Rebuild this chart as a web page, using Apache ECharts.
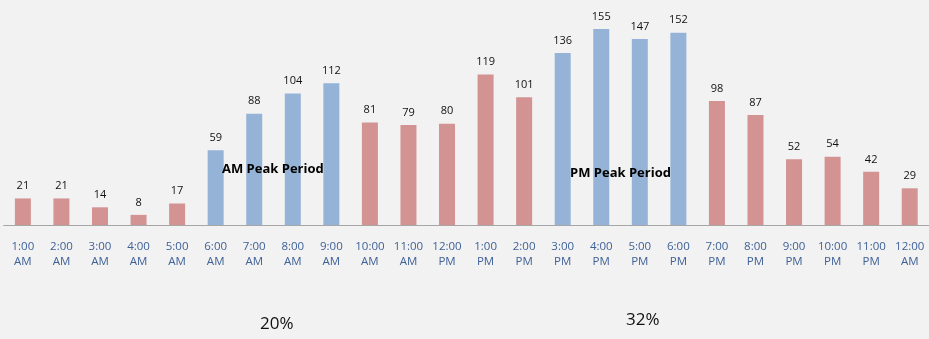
<!DOCTYPE html>
<html>
<head>
<meta charset="utf-8">
<script src="https://cdn.jsdelivr.net/npm/echarts@6/dist/echarts.min.js"></script>
<style>
  html, body { margin: 0; padding: 0; background: #f2f2f2; }
  #chart { width: 929px; height: 339px; }
</style>
</head>
<body>
<div id="chart"></div>
<script>
const hours = [
  '1:00\nAM', '2:00\nAM', '3:00\nAM', '4:00\nAM', '5:00\nAM', '6:00\nAM',
  '7:00\nAM', '8:00\nAM', '9:00\nAM', '10:00\nAM', '11:00\nAM', '12:00\nPM',
  '1:00\nPM', '2:00\nPM', '3:00\nPM', '4:00\nPM', '5:00\nPM', '6:00\nPM',
  '7:00\nPM', '8:00\nPM', '9:00\nPM', '10:00\nPM', '11:00\nPM', '12:00\nAM',
];
const trips = [21, 21, 14, 8, 17, 59, 88, 104, 112, 81, 79, 80, 119, 101, 136, 155, 147, 152, 98, 87, 52, 54, 42, 29];
// 1 = inside a peak period
const isPeak = [0, 0, 0, 0, 0, 1, 1, 1, 1, 0, 0, 0, 0, 0, 1, 1, 1, 1, 0, 0, 0, 0, 0, 0];
const peakShares = ['20%', '32%'];

const PEAK_COLOR = '#95b3d7';
const OFF_COLOR = '#d39392';

const chart = echarts.init(document.getElementById('chart'));

const option = {
  backgroundColor: '#f2f2f2',
  animation: false,
  grid: {
    left: 3.6,
    right: -5,
    top: 22.6,
    height: 202.4,
    containLabel: false,
  },
  xAxis: {
    type: 'category',
    data: hours,
    axisLine: { lineStyle: { color: '#a6a6a6', width: 1 } },
    axisTick: { show: false },
    axisLabel: {
      interval: 0,
      margin: 14,
      color: '#3f6197',
      fontFamily: 'Open Sans',
      fontSize: 11.5,
      lineHeight: 15,
    },
  },
  yAxis: {
    type: 'value',
    min: 0,
    max: 160,
    show: false,
    splitLine: { show: false },
  },
  series: [
    {
      type: 'bar',
      barWidth: 16,
      data: trips.map((v, i) => ({
        value: v,
        itemStyle: { color: isPeak[i] ? PEAK_COLOR : OFF_COLOR },
      })),
      label: {
        show: true,
        position: 'top',
        distance: 7,
        color: '#111',
        fontFamily: 'Open Sans',
        fontSize: 11,
      },
    },
  ],
  graphic: [
    {
      type: 'text',
      left: 222,
      top: 163,
      z: 100,
      style: { text: 'AM Peak Period', fill: '#000', font: 'bold 13px "Open Sans"' },
    },
    {
      type: 'text',
      left: 570,
      top: 167,
      z: 100,
      style: { text: 'PM Peak Period', fill: '#000', font: 'bold 13px "Open Sans"' },
    },
    {
      type: 'text',
      left: 260,
      top: 316,
      z: 100,
      style: { text: peakShares[0], fill: '#111', font: '17px "Open Sans"' },
    },
    {
      type: 'text',
      left: 626,
      top: 312,
      z: 100,
      style: { text: peakShares[1], fill: '#111', font: '17px "Open Sans"' },
    },
  ],
};

chart.setOption(option);
</script>
</body>
</html>
